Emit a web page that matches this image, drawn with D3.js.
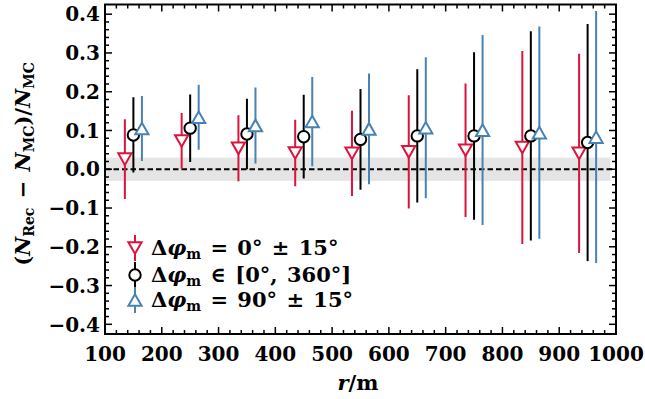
<!DOCTYPE html>
<html><head><meta charset="utf-8">
<script src="https://cdn.jsdelivr.net/npm/d3@7"></script>
<style>body{margin:0;background:#fff}svg{display:block}text{font-family:"DejaVu Serif",serif;font-weight:bold}</style>
</head><body>
<script>
const radii = [150, 250, 350, 450, 550, 650, 750, 850, 950];
const redVals = [0.026, 0.073, 0.054, 0.042, 0.041, 0.045, 0.049, 0.056, 0.041];
const redErrs = [0.103, 0.072, 0.085, 0.086, 0.110, 0.146, 0.172, 0.249, 0.257];
const blackVals = [0.0885, 0.106, 0.091, 0.084, 0.077, 0.086, 0.086, 0.086, 0.069];
const blackErrs = [0.097, 0.087, 0.091, 0.108, 0.130, 0.172, 0.216, 0.270, 0.306];
const blueVals = [0.105, 0.134, 0.113, 0.123, 0.104, 0.107, 0.101, 0.0945, 0.083];
const blueErrs = [0.084, 0.084, 0.098, 0.115, 0.143, 0.182, 0.245, 0.274, 0.325];
const xTicks = [100, 200, 300, 400, 500, 600, 700, 800, 900, 1000];
const yTicks = [-0.4, -0.3, -0.2, -0.1, 0.0, 0.1, 0.2, 0.3, 0.4];
const bandHalf = 0.03;

const W = 645, H = 399;
const L = 105, R = 616, T = 4.5, B = 334;
const x = d3.scaleLinear().domain([100, 1000]).range([L, R]);
const y = d3.scaleLinear().domain([-0.425, 0.425]).range([B, T]);

const svg = d3.select("body").append("svg").attr("width", W).attr("height", H);

svg.append("defs").append("clipPath").attr("id", "clip")
  .append("rect").attr("x", L).attr("y", T).attr("width", R - L).attr("height", B - T);

const plot = svg.append("g").attr("clip-path", "url(#clip)");
plot.append("rect").attr("x", x(100)).attr("width", x(990) - x(100))
  .attr("y", y(bandHalf)).attr("height", y(-bandHalf) - y(bandHalf)).attr("fill", "#e5e5e5");
plot.append("line").attr("x1", x(100)).attr("x2", x(1000)).attr("y1", y(0)).attr("y2", y(0))
  .attr("stroke", "#000").attr("stroke-width", 2).attr("stroke-dasharray", "5.5,3");

const series = [
  {vals: redVals, errs: redErrs, off: -15, color: "#dc143c", shape: "down"},
  {vals: blackVals, errs: blackErrs, off: 0, color: "#000000", shape: "circle"},
  {vals: blueVals, errs: blueErrs, off: 15, color: "#4682b4", shape: "up"}
];

function marker(g, shape, cx, cy, color) {
  if (shape === "circle") {
    g.append("circle").attr("cx", cx).attr("cy", cy).attr("r", 5.7)
      .attr("fill", "#fff").attr("stroke", color).attr("stroke-width", 2);
  } else {
    const s = shape === "down" ? 1 : -1;
    const hw = 6.6, hh = 5.8;
    const pts = [[cx - hw, cy - s * hh], [cx + hw, cy - s * hh], [cx, cy + s * hh]];
    g.append("path").attr("d", "M" + pts.map(p => p.join(",")).join("L") + "Z")
      .attr("fill", "#fff").attr("stroke", color).attr("stroke-width", 2).attr("stroke-linejoin", "miter");
  }
}

series.forEach(s => {
  const g = plot.append("g");
  radii.forEach((r, i) => {
    const cx = x(r + s.off);
    g.append("line").attr("x1", cx).attr("x2", cx)
      .attr("y1", y(s.vals[i] + s.errs[i])).attr("y2", y(s.vals[i] - s.errs[i]))
      .attr("stroke", s.color).attr("stroke-width", 2);
    marker(g, s.shape, cx, y(s.vals[i]), s.color);
  });
});

// axes frame
svg.append("rect").attr("x", L).attr("y", T).attr("width", R - L).attr("height", B - T)
  .attr("fill", "none").attr("stroke", "#000").attr("stroke-width", 2);

// ticks (inward, all sides)
const ax = svg.append("g").attr("stroke", "#000").attr("stroke-width", 1.5);
const xMinor = d3.range(100, 1001, 20);
xMinor.forEach(v => {
  const major = v % 100 === 0;
  const len = major ? 7 : 4;
  ax.append("line").attr("x1", x(v)).attr("x2", x(v)).attr("y1", B).attr("y2", B - len);
  ax.append("line").attr("x1", x(v)).attr("x2", x(v)).attr("y1", T).attr("y2", T + len);
});
const yMinor = d3.range(-20, 21).map(k => k * 0.02);
yMinor.forEach(v => {
  const major = Math.abs(Math.round(v * 50)) % 5 === 0;
  const len = major ? 7 : 4;
  ax.append("line").attr("x1", L).attr("x2", L + len).attr("y1", y(v)).attr("y2", y(v));
  ax.append("line").attr("x1", R).attr("x2", R - len).attr("y1", y(v)).attr("y2", y(v));
});

// tick labels
svg.append("g").selectAll("text").data(xTicks).join("text")
  .attr("x", d => x(d)).attr("y", 361).attr("text-anchor", "middle")
  .attr("font-size", 20).text(d => d);
svg.append("g").selectAll("text").data(yTicks).join("text")
  .attr("x", 100).attr("y", d => y(d)).attr("dy", "0.36em").attr("text-anchor", "end")
  .attr("font-size", 20).text(d => (d < 0 ? "\u2212" : "") + Math.abs(d).toFixed(1));

// x label
const xl = svg.append("text").attr("x", 358).attr("y", 390).attr("text-anchor", "middle").attr("font-size", 21);
xl.append("tspan").attr("font-style", "italic").text("r");
xl.append("tspan").text("/m");

// y label
const yl = svg.append("text").attr("transform", "translate(30,164) rotate(-90)")
  .attr("text-anchor", "middle").attr("font-size", 21).attr("word-spacing", 2);
yl.append("tspan").text("(");
yl.append("tspan").attr("font-style", "italic").text("N");
yl.append("tspan").attr("font-size", 14).attr("dy", 4).text("Rec");
yl.append("tspan").attr("dy", -4).text(" \u2212 ");
yl.append("tspan").attr("font-style", "italic").text("N");
yl.append("tspan").attr("font-size", 14).attr("dy", 4).text("MC");
yl.append("tspan").attr("dy", -4).text(")/");
yl.append("tspan").attr("font-style", "italic").text("N");
yl.append("tspan").attr("font-size", 14).attr("dy", 4).text("MC");

// legend
const legendLabels = [
  " = 0\u00b0 \u00b1 15\u00b0",
  " \u2208 [0\u00b0, 360\u00b0]",
  " = 90\u00b0 \u00b1 15\u00b0"
];
const legRows = [248, 275, 300];
series.forEach((s, i) => {
  const cy = legRows[i];
  const g = svg.append("g");
  g.append("line").attr("x1", 135).attr("x2", 135).attr("y1", cy - 13).attr("y2", cy + 13)
    .attr("stroke", s.color).attr("stroke-width", 2);
  marker(g, s.shape, 135, cy, s.color);
  const t = svg.append("text").attr("x", 151).attr("y", cy + 7).attr("font-size", 21).attr("word-spacing", 2);
  t.append("tspan").text("\u0394");
  t.append("tspan").attr("font-style", "italic").text("\u03c6");
  t.append("tspan").attr("font-size", 14).attr("dy", 4).text("m");
  t.append("tspan").attr("dy", -4).text(legendLabels[i]);
});
</script>
</body></html>
